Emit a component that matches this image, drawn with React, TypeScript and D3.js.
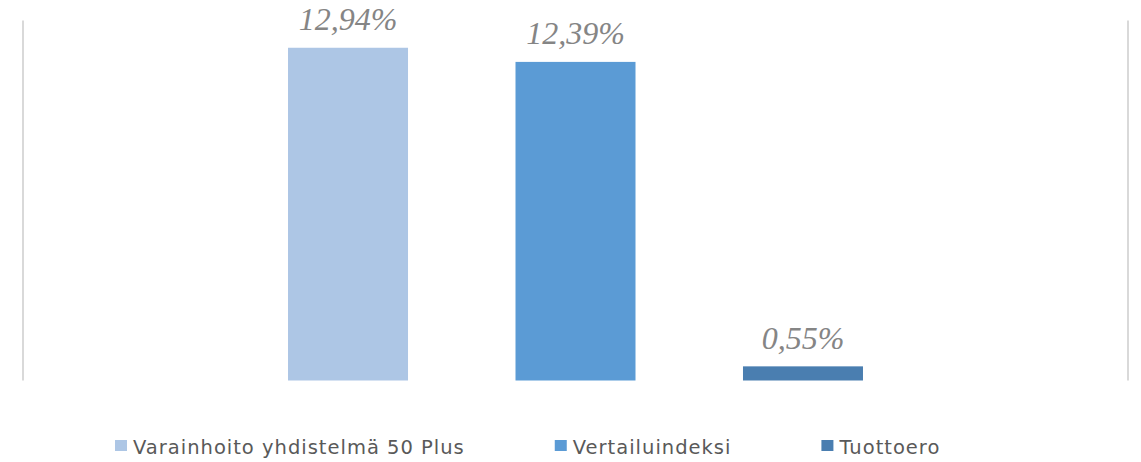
import { useMemo } from "react";
import * as d3 from "d3";

const series = ["Varainhoito yhdistelmä 50 Plus", "Vertailuindeksi", "Tuottoero"];
const values = [12.94, 12.39, 0.55];
const colors = ["#adc6e5", "#5b9bd5", "#4a7eb0"];
const yDomain: [number, number] = [0, 14];

const W = 1141;
const H = 462;
const plot = { left: 23, right: 1128, top: 20.5, bottom: 380.5 };

const legendFontSize = 19.5;
const legendFont = `${legendFontSize}px 'DejaVu Sans'`;
const legendSpacing = 1;

function fmt(v: number) {
  return v.toFixed(2).replace(".", ",") + "%";
}

function textWidth(s: string) {
  const ctx = document.createElement("canvas").getContext("2d");
  if (!ctx) return s.length * 10;
  ctx.font = legendFont;
  return ctx.measureText(s).width + legendSpacing * s.length;
}

export default function App() {
  const x = useMemo(
    () =>
      d3
        .scaleBand<string>()
        .domain(series)
        .range([plot.left, plot.right])
        .paddingInner(0.4725)
        .paddingOuter(1.165),
    [],
  );
  const y = useMemo(
    () => d3.scaleLinear().domain(yDomain).range([plot.bottom, plot.top]),
    [],
  );

  // legend entries laid out left to right: swatch, label, then a gap
  const legend = useMemo(() => {
    let cx = 115;
    return series.map((s, i) => {
      const item = { s, i, x: cx };
      cx += 18 + textWidth(s) + 90;
      return item;
    });
  }, []);

  return (
    <svg
      width={W}
      height={H}
      style={{ position: "absolute", left: 0, top: 0, background: "#fff" }}
    >
      {/* frame lines on both sides */}
      <line x1={plot.left} x2={plot.left} y1={plot.top} y2={plot.bottom} stroke="#d9d9d9" strokeWidth={2} />
      <line x1={plot.right} x2={plot.right} y1={plot.top} y2={plot.bottom} stroke="#d9d9d9" strokeWidth={2} />

      {series.map((s, i) => (
        <g key={s}>
          <rect
            x={x(s)}
            y={y(values[i])}
            width={x.bandwidth()}
            height={y(0) - y(values[i])}
            fill={colors[i]}
          />
          <text
            x={(x(s) ?? 0) + x.bandwidth() / 2}
            y={y(values[i]) - 17.5}
            textAnchor="middle"
            fontFamily="'Liberation Serif', serif"
            fontStyle="italic"
            fontSize={32}
            fill="#858585"
          >
            {fmt(values[i])}
          </text>
        </g>
      ))}

      {legend.map((d) => (
        <g key={d.s}>
          <rect x={d.x} y={440} width={12} height={11} fill={colors[d.i]} />
          <text
            x={d.x + 18}
            y={453.5}
            fontFamily="'DejaVu Sans', sans-serif"
            fontSize={legendFontSize}
            letterSpacing={legendSpacing}
            fill="#595959"
          >
            {d.s}
          </text>
        </g>
      ))}
    </svg>
  );
}
